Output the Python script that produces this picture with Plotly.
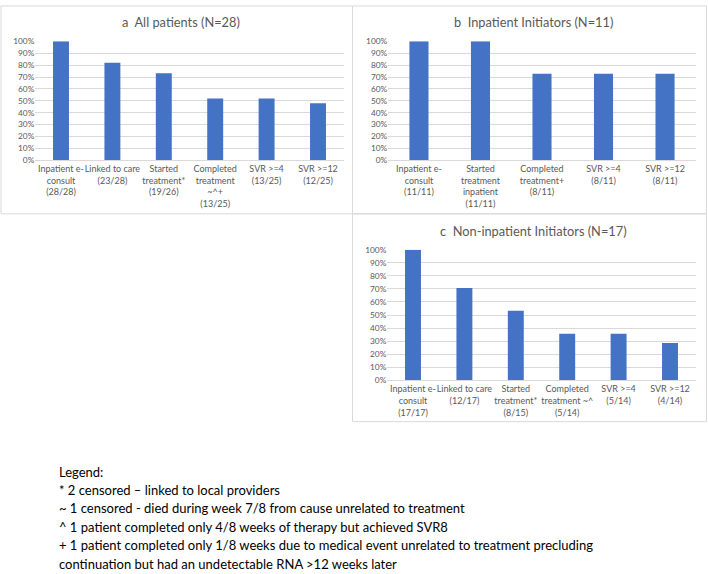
import plotly.graph_objects as go

# ---- data ----
cats_a = ["Inpatient e-<br>consult<br>(28/28)", "Linked to care<br>(23/28)", "Started<br>treatment*<br>(19/26)",
          "Completed<br>treatment<br>~^+<br>(13/25)", "SVR >=4<br>(13/25)", "SVR >=12<br>(12/25)"]
vals_a = [100.0, 82.1, 73.1, 52.0, 52.0, 48.0]

cats_b = ["Inpatient e-<br>consult<br>(11/11)", "Started<br>treatment<br>inpatient<br>(11/11)",
          "Completed<br>treatment+<br>(8/11)", "SVR >=4<br>(8/11)", "SVR >=12<br>(8/11)"]
vals_b = [100.0, 100.0, 72.7, 72.7, 72.7]

cats_c = ["Inpatient e-<br>consult<br>(17/17)", "Linked to care<br>(12/17)", "Started<br>treatment*<br>(8/15)",
          "Completed<br>treatment ~^<br>(5/14)", "SVR >=4<br>(5/14)", "SVR >=12<br>(4/14)"]
vals_c = [100.0, 70.6, 53.3, 35.7, 35.7, 28.6]

titles = ["a  All patients (N=28)", "b  Inpatient Initiators (N=11)", "c  Non-inpatient Initiators (N=17)"]
legend_lines = [
    "Legend:",
    "* 2 censored \u2013 linked to local providers",
    "~ 1 censored - died during week 7/8 from cause unrelated to treatment",
    "^ 1 patient completed only 4/8 weeks of therapy but achieved SVR8",
    "+ 1 patient completed only 1/8 weeks due to medical event unrelated to treatment precluding",
    "continuation but had an undetectable RNA >12 weeks later",
]

W, H = 708, 574
FONT = "Lato, Carlito, 'Open Sans', sans-serif"
BAR = "#4472C4"
GRAY = "#595959"

def px_x(x):
    return x / W

def px_y(y):
    return 1 - y / H

fig = go.Figure()

panels = [
    (cats_a, vals_a, "x", "y", (35.3, 343.7), (37, 158)),
    (cats_b, vals_b, "x2", "y2", (388.2, 695.8), (37, 158)),
    (cats_c, vals_c, "x3", "y3", (387.3, 695.7), (249, 382)),
]

for cats, vals, xa, ya, xd, yd in panels:
    fig.add_trace(go.Bar(x=cats, y=vals, xaxis=xa, yaxis=ya, marker_color=BAR,
                         marker_line_width=0, width=0.31, showlegend=False))

layout_axes = {}
for i, (cats, vals, xa, ya, xd, yd) in enumerate(panels):
    sfx = "" if i == 0 else str(i + 1)
    layout_axes["xaxis" + sfx] = dict(
        domain=[px_x(xd[0]), px_x(xd[1])], anchor=ya, type="category",
        showgrid=False, showline=True, linecolor="#d9d9d9", linewidth=1,
        ticks="", tickfont=dict(family=FONT, size=9, color=GRAY), tickangle=0,
        fixedrange=True)
    layout_axes["yaxis" + sfx] = dict(
        domain=[px_y(yd[1]), px_y(yd[0])], anchor=xa, range=[0, 100],
        tickvals=list(range(0, 101, 10)), ticktext=[f"{v}%" for v in range(0, 101, 10)],
        showgrid=True, gridcolor="#d9d9d9", gridwidth=1, zeroline=False, showline=False,
        tickfont=dict(family=FONT, size=8.3, color=GRAY), ticks="", fixedrange=True)

fig.update_layout(**layout_axes)

# panel borders
boxes = [(1, 1, 352.5, 212.5), (352.5, 1, 706.5, 212.5), (352.5, 212.5, 706.5, 424)]
shapes = []
for x0, y0, x1, y1 in boxes:
    shapes.append(dict(type="rect", xref="paper", yref="paper",
                       x0=px_x(x0), x1=px_x(x1), y0=px_y(y1), y1=px_y(y0),
                       line=dict(color="#d9d9d9", width=1), fillcolor="rgba(0,0,0,0)", layer="below"))

annotations = []
title_pos = [(181, 17), (533, 17), (533, 230)]
for t, (tx, ty) in zip(titles, title_pos):
    annotations.append(dict(text=t, x=px_x(tx), y=px_y(ty), xref="paper", yref="paper",
                            showarrow=False, xanchor="center", yanchor="middle",
                            font=dict(family=FONT, size=12.8, color=GRAY)))

for k, line in enumerate(legend_lines):
    ly = 475 + k * 18.7
    annotations.append(dict(text=line, x=px_x(57), y=px_y(ly), xref="paper", yref="paper",
                            showarrow=False, xanchor="left", yanchor="middle",
                            font=dict(family=FONT, size=13, color="#000000")))

fig.update_layout(width=W, height=H, margin=dict(l=0, r=0, t=0, b=0),
                  paper_bgcolor="white", plot_bgcolor="white",
                  shapes=shapes, annotations=annotations, bargap=0.69)

fig.write_html("out.html", config={"displayModeBar": False, "staticPlot": True},
               post_script="document.body.style.margin='0px';document.body.style.overflow='hidden';")
